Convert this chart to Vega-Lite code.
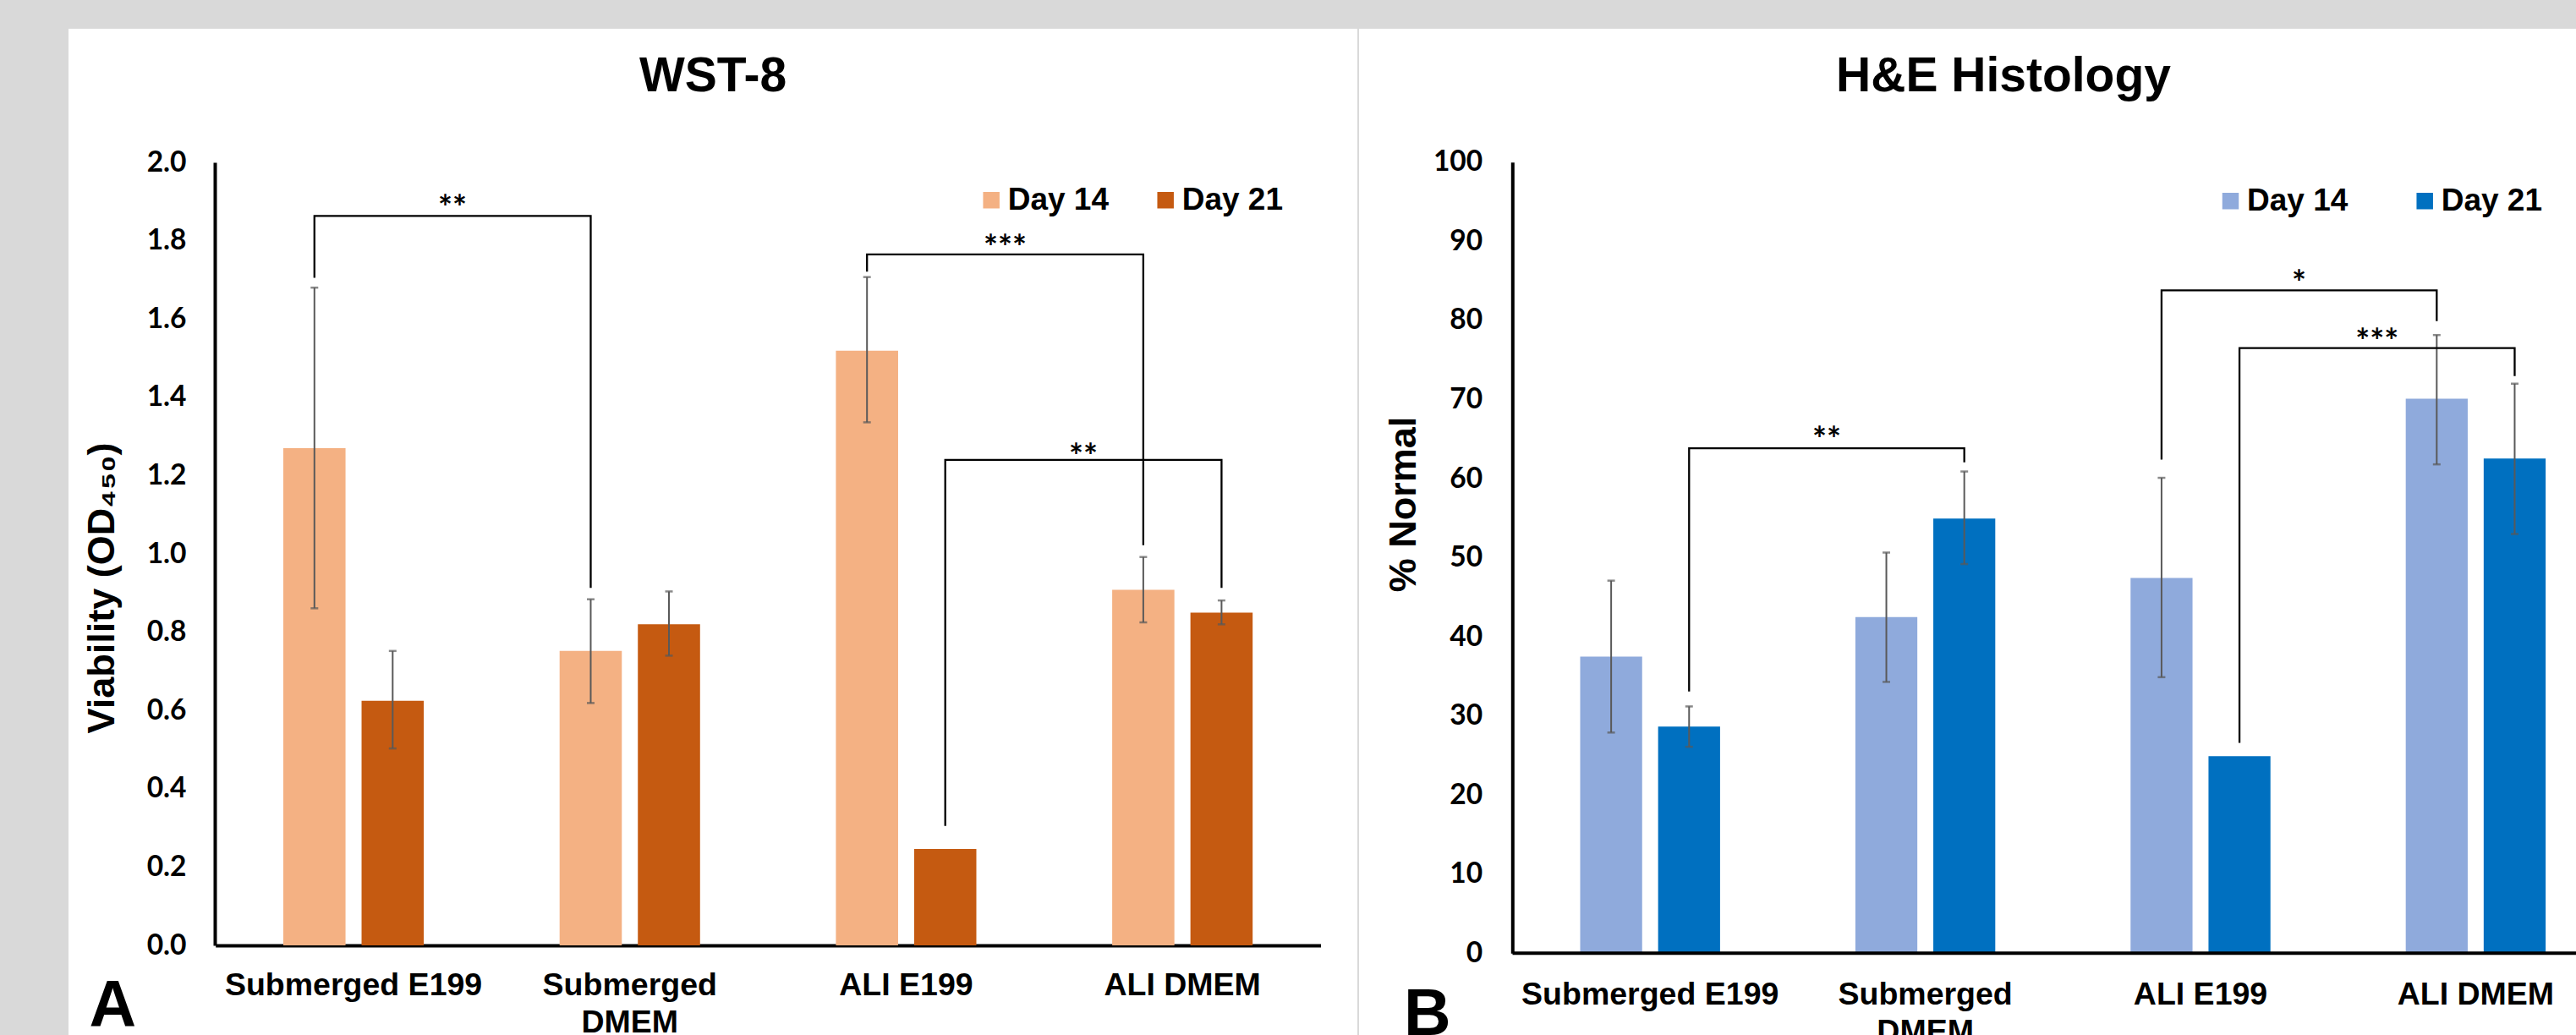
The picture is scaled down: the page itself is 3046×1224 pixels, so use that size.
{
  "$schema": "https://vega.github.io/schema/vega-lite/v6.json",
  "background": "#D9D9D9",
  "padding": {"left": 81, "top": 34, "right": 0, "bottom": 0},
  "config": {"view": {"fill": "white", "stroke": null}, "axis": {"grid": false}},
  "datasets": {
    "wst": [
      {"cat": "Submerged E199", "day": "Day 14", "v": 1.27, "lo": 0.861, "hi": 1.68},
      {"cat": "Submerged E199", "day": "Day 21", "v": 0.625, "lo": 0.503, "hi": 0.752},
      {"cat": "Submerged DMEM", "day": "Day 14", "v": 0.752, "lo": 0.619, "hi": 0.884},
      {"cat": "Submerged DMEM", "day": "Day 21", "v": 0.82, "lo": 0.74, "hi": 0.904},
      {"cat": "ALI E199", "day": "Day 14", "v": 1.519, "lo": 1.336, "hi": 1.707},
      {"cat": "ALI E199", "day": "Day 21", "v": 0.246, "lo": null, "hi": null},
      {"cat": "ALI DMEM", "day": "Day 14", "v": 0.908, "lo": 0.825, "hi": 0.992},
      {"cat": "ALI DMEM", "day": "Day 21", "v": 0.85, "lo": 0.82, "hi": 0.881}
    ],
    "wstBr": [
      {"b": 1, "seq": 1, "cat": "Submerged E199", "day": "Day 14", "y": 1.705},
      {"b": 1, "seq": 2, "cat": "Submerged E199", "day": "Day 14", "y": 1.863},
      {"b": 1, "seq": 3, "cat": "Submerged DMEM", "day": "Day 14", "y": 1.863},
      {"b": 1, "seq": 4, "cat": "Submerged DMEM", "day": "Day 14", "y": 0.913},
      {"b": 2, "seq": 1, "cat": "ALI E199", "day": "Day 14", "y": 1.721},
      {"b": 2, "seq": 2, "cat": "ALI E199", "day": "Day 14", "y": 1.765},
      {"b": 2, "seq": 3, "cat": "ALI DMEM", "day": "Day 14", "y": 1.765},
      {"b": 2, "seq": 4, "cat": "ALI DMEM", "day": "Day 14", "y": 1.022},
      {"b": 3, "seq": 1, "cat": "ALI E199", "day": "Day 21", "y": 0.305},
      {"b": 3, "seq": 2, "cat": "ALI E199", "day": "Day 21", "y": 1.24},
      {"b": 3, "seq": 3, "cat": "ALI DMEM", "day": "Day 21", "y": 1.24},
      {"b": 3, "seq": 4, "cat": "ALI DMEM", "day": "Day 21", "y": 0.913}
    ],
    "wstLab": [
      {"cat": "Submerged E199", "day": "Day 14", "y": 1.9, "label": "**"},
      {"cat": "ALI E199", "day": "Day 14", "y": 1.8, "label": "***"},
      {"cat": "ALI E199", "day": "Day 21", "y": 1.265, "label": "**"}
    ],
    "he": [
      {"cat": "Submerged E199", "day": "Day 14", "v": 37.5, "lo": 27.9, "hi": 47.1},
      {"cat": "Submerged E199", "day": "Day 21", "v": 28.65, "lo": 26.1, "hi": 31.2},
      {"cat": "Submerged DMEM", "day": "Day 14", "v": 42.5, "lo": 34.3, "hi": 50.65},
      {"cat": "Submerged DMEM", "day": "Day 21", "v": 54.95, "lo": 49.2, "hi": 60.9},
      {"cat": "ALI E199", "day": "Day 14", "v": 47.45, "lo": 34.9, "hi": 60.1},
      {"cat": "ALI E199", "day": "Day 21", "v": 24.9, "lo": null, "hi": null},
      {"cat": "ALI DMEM", "day": "Day 14", "v": 70.1, "lo": 61.8, "hi": 78.15},
      {"cat": "ALI DMEM", "day": "Day 21", "v": 62.55, "lo": 53.0, "hi": 72.0}
    ],
    "heBr": [
      {"b": 1, "seq": 1, "cat": "Submerged E199", "day": "Day 21", "y": 33.1},
      {"b": 1, "seq": 2, "cat": "Submerged E199", "day": "Day 21", "y": 63.83},
      {"b": 1, "seq": 3, "cat": "Submerged DMEM", "day": "Day 21", "y": 63.83},
      {"b": 1, "seq": 4, "cat": "Submerged DMEM", "day": "Day 21", "y": 62.06},
      {"b": 2, "seq": 1, "cat": "ALI E199", "day": "Day 14", "y": 62.4},
      {"b": 2, "seq": 2, "cat": "ALI E199", "day": "Day 14", "y": 83.8},
      {"b": 2, "seq": 3, "cat": "ALI DMEM", "day": "Day 14", "y": 83.8},
      {"b": 2, "seq": 4, "cat": "ALI DMEM", "day": "Day 14", "y": 79.9},
      {"b": 3, "seq": 1, "cat": "ALI E199", "day": "Day 21", "y": 26.6},
      {"b": 3, "seq": 2, "cat": "ALI E199", "day": "Day 21", "y": 76.5},
      {"b": 3, "seq": 3, "cat": "ALI DMEM", "day": "Day 21", "y": 76.5},
      {"b": 3, "seq": 4, "cat": "ALI DMEM", "day": "Day 21", "y": 72.95}
    ],
    "heLab": [
      {"cat": "Submerged E199", "day": "Day 21", "y": 65.9, "label": "**"},
      {"cat": "ALI E199", "day": "Day 14", "y": 85.7, "label": "*"},
      {"cat": "ALI E199", "day": "Day 21", "y": 78.3, "label": "***"}
    ],
    "base": [{"cat": "Submerged E199", "y": 0}]
  },
  "spacing": 2,
  "bounds": "flush",
  "resolve": {
    "scale": {"color": "independent", "x": "independent", "y": "independent", "xOffset": "independent"},
    "legend": {"color": "independent"}
  },
  "hconcat": [
    {
      "width": 1524,
      "height": 1190,
      "title": {"text": "WST-8", "font": "Liberation Sans", "fontSize": 57, "fontWeight": "bold", "color": "black", "anchor": "middle", "frame": "group", "baseline": "alphabetic", "offset": -131},
      "layer": [
        {
          "data": {"name": "wst"},
          "mark": {"type": "bar"},
          "encoding": {
            "x": {
              "field": "cat", "type": "nominal", "sort": null,
              "scale": {"type": "band", "domain": ["Submerged E199", "Submerged DMEM", "ALI E199", "ALI DMEM"], "range": [173.7, 1480.5], "paddingInner": 0, "paddingOuter": 0},
              "axis": {
                "title": "A", "labelAngle": 0, "ticks": false, "domainColor": "black", "domainWidth": 4, "offset": -106,
                "labelFont": "Liberation Sans", "labelFontWeight": "bold", "labelFontSize": 37.5, "labelColor": "black",
                "labelBaseline": "alphabetic", "labelPadding": 58.7, "labelLineHeight": 44, "labelLimit": 0,
                "labelExpr": "datum.value == 'Submerged DMEM' ? ['Submerged', 'DMEM'] : datum.value",
                "titleFont": "Liberation Sans", "titleFontWeight": "bold", "titleFontSize": 77, "titleColor": "black",
                "titleAlign": "left", "titleBaseline": "alphabetic", "titleX": 24, "titleY": 95.3, "titleAnchor": "start"
              }
            },
            "xOffset": {"field": "day", "type": "nominal", "sort": null, "scale": {"paddingInner": 0.205, "paddingOuter": 0.868}},
            "y": {
              "field": "v", "type": "quantitative",
              "scale": {"domain": [0, 2], "range": [1084, 158], "nice": false},
              "axis": {
                "title": "Viability (OD₄₅₀)", "values": [0, 0.2, 0.4, 0.6, 0.8, 1.0, 1.2, 1.4, 1.6, 1.8, 2.0], "format": ".1f",
                "ticks": false, "domainColor": "black", "domainWidth": 4, "offset": -173,
                "labelFont": "Lato", "labelFontWeight": "bold", "labelFontSize": 33.5, "labelColor": "black", "labelPadding": 34,
                "titleFont": "Liberation Sans", "titleFontWeight": "bold", "titleFontSize": 45, "titleColor": "black",
                "titleAngle": 270, "titleAlign": "center", "titleBaseline": "alphabetic", "titleX": -120, "titleY": 661
              }
            },
            "color": {
              "field": "day", "type": "nominal",
              "scale": {"domain": ["Day 14", "Day 21"], "range": ["#F4B183", "#C55A11"]},
              "legend": {
                "orient": "none", "legendX": 1072.7, "legendY": 184, "direction": "horizontal", "title": null, "padding": 0,
                "symbolType": "square", "symbolSize": 380, "symbolStrokeWidth": 0, "symbolOpacity": 1,
                "labelFont": "Liberation Sans", "labelFontWeight": "bold", "labelFontSize": 37, "labelColor": "black",
                "labelOffset": 1, "columnPadding": 48
              }
            }
          }
        },
        {
          "data": {"name": "wst"},
          "transform": [{"filter": "datum.hi != null"}],
          "mark": {"type": "rule", "color": "#595959", "strokeWidth": 2},
          "encoding": {
            "x": {"field": "cat", "type": "nominal", "sort": null},
            "xOffset": {"field": "day", "type": "nominal", "sort": null},
            "y": {"field": "lo", "type": "quantitative"},
            "y2": {"field": "hi"}
          }
        },
        {
          "data": {"name": "wst"},
          "transform": [{"filter": "datum.hi != null"}],
          "mark": {"type": "tick", "orient": "horizontal", "size": 9, "thickness": 2.5, "color": "#595959"},
          "encoding": {
            "x": {"field": "cat", "type": "nominal", "sort": null},
            "xOffset": {"field": "day", "type": "nominal", "sort": null},
            "y": {"field": "lo", "type": "quantitative"}
          }
        },
        {
          "data": {"name": "wst"},
          "transform": [{"filter": "datum.hi != null"}],
          "mark": {"type": "tick", "orient": "horizontal", "size": 9, "thickness": 2.5, "color": "#595959"},
          "encoding": {
            "x": {"field": "cat", "type": "nominal", "sort": null},
            "xOffset": {"field": "day", "type": "nominal", "sort": null},
            "y": {"field": "hi", "type": "quantitative"}
          }
        },
        {
          "data": {"name": "wstBr"},
          "mark": {"type": "line", "color": "black", "strokeWidth": 2.3, "strokeJoin": "miter"},
          "encoding": {
            "x": {"field": "cat", "type": "nominal", "sort": null},
            "xOffset": {"field": "day", "type": "nominal", "sort": null},
            "y": {"field": "y", "type": "quantitative"},
            "detail": {"field": "b", "type": "nominal"},
            "order": {"field": "seq", "type": "quantitative"}
          }
        },
        {
          "data": {"name": "wstLab"},
          "mark": {"type": "text", "font": "Lato", "fontWeight": "bold", "fontSize": 40, "color": "black", "baseline": "middle", "align": "center", "dx": 163.3, "dy": 10},
          "encoding": {
            "x": {"field": "cat", "type": "nominal", "sort": null},
            "xOffset": {"field": "day", "type": "nominal", "sort": null},
            "y": {"field": "y", "type": "quantitative"},
            "text": {"field": "label"}
          }
        }
      ]
    },
    {
      "width": 1439,
      "height": 1190,
      "title": {"text": "H&E Histology", "font": "Liberation Sans", "fontSize": 57, "fontWeight": "bold", "color": "black", "anchor": "middle", "frame": "group", "baseline": "alphabetic", "offset": -131, "dx": 42.5},
      "layer": [
        {
          "data": {"name": "he"},
          "mark": {"type": "bar"},
          "encoding": {
            "x": {
              "field": "cat", "type": "nominal", "sort": null,
              "scale": {"type": "band", "domain": ["Submerged E199", "Submerged DMEM", "ALI E199", "ALI DMEM"], "range": [181.5, 1483.1], "paddingInner": 0, "paddingOuter": 0},
              "axis": {
                "title": "B", "labelAngle": 0, "ticks": false, "domain": false, "offset": -96.7,
                "labelFont": "Liberation Sans", "labelFontWeight": "bold", "labelFontSize": 37.5, "labelColor": "black",
                "labelBaseline": "alphabetic", "labelPadding": 59.7, "labelLineHeight": 44, "labelLimit": 0,
                "labelExpr": "datum.value == 'Submerged DMEM' ? ['Submerged', 'DMEM'] : datum.value",
                "titleFont": "Liberation Sans", "titleFontWeight": "bold", "titleFontSize": 77, "titleColor": "black",
                "titleAlign": "left", "titleBaseline": "alphabetic", "titleX": 52.5, "titleY": 96, "titleAnchor": "start"
              }
            },
            "xOffset": {"field": "day", "type": "nominal", "sort": null, "scale": {"paddingInner": 0.205, "paddingOuter": 0.868}},
            "y": {
              "field": "v", "type": "quantitative",
              "scale": {"domain": [0, 100], "range": [1093.3, 157.8], "nice": false},
              "axis": {
                "title": "% Normal", "values": [0, 10, 20, 30, 40, 50, 60, 70, 80, 90, 100],
                "ticks": false, "domainColor": "black", "domainWidth": 4, "offset": -181.3,
                "labelFont": "Lato", "labelFontWeight": "bold", "labelFontSize": 33.5, "labelColor": "black", "labelPadding": 35.6,
                "titleFont": "Liberation Sans", "titleFontWeight": "bold", "titleFontSize": 45, "titleColor": "black",
                "titleAngle": 270, "titleAlign": "center", "titleBaseline": "alphabetic", "titleX": -115, "titleY": 562
              }
            },
            "color": {
              "field": "day", "type": "nominal",
              "scale": {"domain": ["Day 14", "Day 21"], "range": ["#8FAADC", "#0070C0"]},
              "legend": {
                "orient": "none", "legendX": 1012, "legendY": 185, "direction": "horizontal", "title": null, "padding": 0,
                "symbolType": "square", "symbolSize": 380, "symbolStrokeWidth": 0, "symbolOpacity": 1,
                "labelFont": "Liberation Sans", "labelFontWeight": "bold", "labelFontSize": 37, "labelColor": "black",
                "labelOffset": 1, "columnPadding": 71.7
              }
            }
          }
        },
        {
          "data": {"name": "base"},
          "mark": {"type": "rule", "color": "black", "strokeWidth": 4},
          "encoding": {
            "x": {"field": "cat", "type": "nominal", "bandPosition": 0},
            "x2": {"value": "width"},
            "y": {"field": "y", "type": "quantitative"}
          }
        },
        {
          "data": {"name": "he"},
          "transform": [{"filter": "datum.hi != null"}],
          "mark": {"type": "rule", "color": "#595959", "strokeWidth": 2},
          "encoding": {
            "x": {"field": "cat", "type": "nominal", "sort": null},
            "xOffset": {"field": "day", "type": "nominal", "sort": null},
            "y": {"field": "lo", "type": "quantitative"},
            "y2": {"field": "hi"}
          }
        },
        {
          "data": {"name": "he"},
          "transform": [{"filter": "datum.hi != null"}],
          "mark": {"type": "tick", "orient": "horizontal", "size": 9, "thickness": 2.5, "color": "#595959"},
          "encoding": {
            "x": {"field": "cat", "type": "nominal", "sort": null},
            "xOffset": {"field": "day", "type": "nominal", "sort": null},
            "y": {"field": "lo", "type": "quantitative"}
          }
        },
        {
          "data": {"name": "he"},
          "transform": [{"filter": "datum.hi != null"}],
          "mark": {"type": "tick", "orient": "horizontal", "size": 9, "thickness": 2.5, "color": "#595959"},
          "encoding": {
            "x": {"field": "cat", "type": "nominal", "sort": null},
            "xOffset": {"field": "day", "type": "nominal", "sort": null},
            "y": {"field": "hi", "type": "quantitative"}
          }
        },
        {
          "data": {"name": "heBr"},
          "mark": {"type": "line", "color": "black", "strokeWidth": 2.3, "strokeJoin": "miter"},
          "encoding": {
            "x": {"field": "cat", "type": "nominal", "sort": null},
            "xOffset": {"field": "day", "type": "nominal", "sort": null},
            "y": {"field": "y", "type": "quantitative"},
            "detail": {"field": "b", "type": "nominal"},
            "order": {"field": "seq", "type": "quantitative"}
          }
        },
        {
          "data": {"name": "heLab"},
          "mark": {"type": "text", "font": "Lato", "fontWeight": "bold", "fontSize": 40, "color": "black", "baseline": "middle", "align": "center", "dx": 162.7, "dy": 11},
          "encoding": {
            "x": {"field": "cat", "type": "nominal", "sort": null},
            "xOffset": {"field": "day", "type": "nominal", "sort": null},
            "y": {"field": "y", "type": "quantitative"},
            "text": {"field": "label"}
          }
        }
      ]
    }
  ]
}
